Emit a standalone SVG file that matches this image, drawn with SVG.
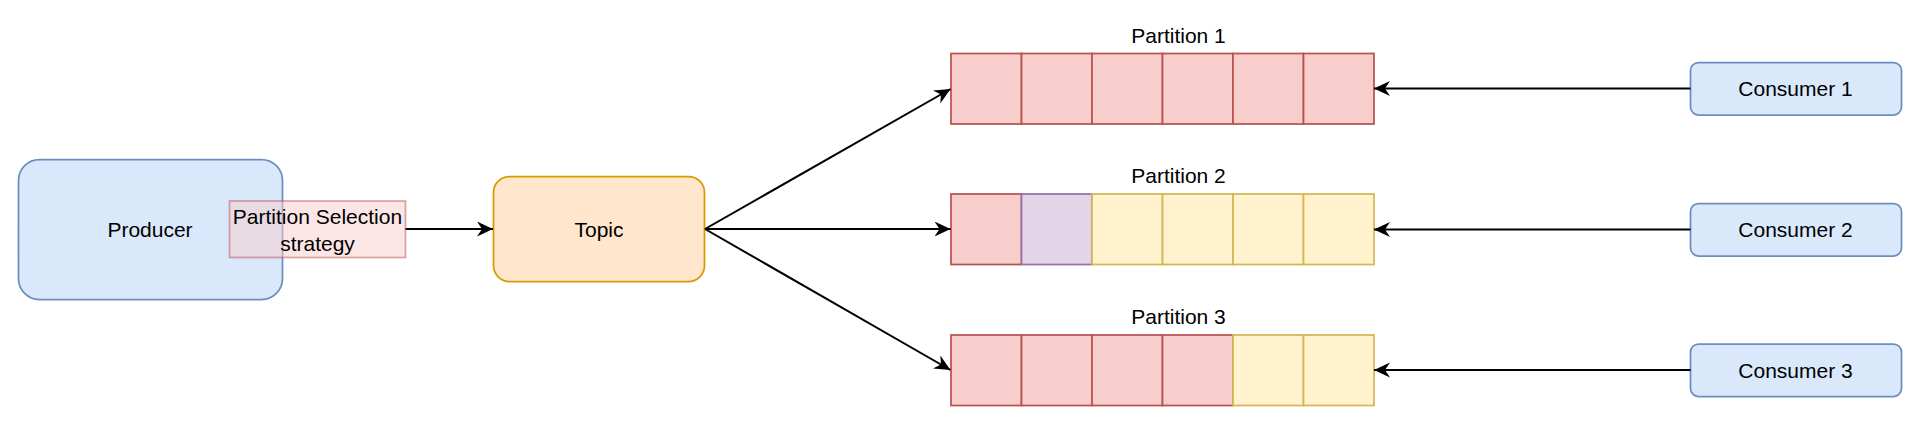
<svg xmlns="http://www.w3.org/2000/svg" width="1920" height="424" viewBox="0 0 1920 424">
<style>
text{font-family:"Liberation Sans",Arial,sans-serif;fill:#000;text-anchor:middle;dominant-baseline:central;font-size:21px}
.blue{fill:#dae8fc;stroke:#6c8ebf;stroke-width:1.75}
.orange{fill:#ffe6cc;stroke:#d79b00;stroke-width:1.75}
.red{fill:#f8cecc;stroke:#b85450;stroke-width:1.75}
.yellow{fill:#fff2cc;stroke:#d6b656;stroke-width:1.75}
.purple{fill:#e1d5e7;stroke:#9673a6;stroke-width:1.75}
.edge{fill:none;stroke:#000;stroke-width:2;marker-end:url(#arr)}
</style>
<defs>
<marker id="arr" markerUnits="userSpaceOnUse" markerWidth="18" markerHeight="16" refX="16" refY="7.5" orient="auto">
<path d="M0,0 L16,7.5 L0,15 L5,7.5 Z" fill="#000"/>
</marker>
</defs>
<rect width="1920" height="424" fill="#fff"/>
<g id="producer">
<rect class="blue" x="18.5" y="159.5" width="264" height="140" rx="21"/>
<text x="150" y="229">Producer</text>
</g>
<g id="strategy">
<rect x="229.5" y="201" width="176" height="56.5" fill="#f8cecc" fill-opacity="0.5" stroke="#b85450" stroke-opacity="0.5" stroke-width="1.75"/>
<text x="317.5" y="216.5">Partition Selection</text>
<text x="317.5" y="243">strategy</text>
</g>
<g id="topic">
<rect class="orange" x="493.5" y="176.5" width="211" height="105" rx="16"/>
<text x="599" y="229">Topic</text>
</g>
<g id="partition1">
<text x="1178.5" y="35">Partition 1</text>
<rect class="red" x="951" y="53.5" width="70.5" height="70.5"/>
<rect class="red" x="1021.5" y="53.5" width="70.5" height="70.5"/>
<rect class="red" x="1092" y="53.5" width="70.5" height="70.5"/>
<rect class="red" x="1162.5" y="53.5" width="70.5" height="70.5"/>
<rect class="red" x="1233" y="53.5" width="70.5" height="70.5"/>
<rect class="red" x="1303.5" y="53.5" width="70.5" height="70.5"/>
</g>
<g id="partition2">
<text x="1178.5" y="175.5">Partition 2</text>
<rect class="red" x="951" y="194" width="70.5" height="70.5"/>
<rect class="purple" x="1021.5" y="194" width="70.5" height="70.5"/>
<rect class="yellow" x="1092" y="194" width="70.5" height="70.5"/>
<rect class="yellow" x="1162.5" y="194" width="70.5" height="70.5"/>
<rect class="yellow" x="1233" y="194" width="70.5" height="70.5"/>
<rect class="yellow" x="1303.5" y="194" width="70.5" height="70.5"/>
</g>
<g id="partition3">
<text x="1178.5" y="316">Partition 3</text>
<rect class="red" x="951" y="335" width="70.5" height="70.5"/>
<rect class="red" x="1021.5" y="335" width="70.5" height="70.5"/>
<rect class="red" x="1092" y="335" width="70.5" height="70.5"/>
<rect class="red" x="1162.5" y="335" width="70.5" height="70.5"/>
<rect class="yellow" x="1233" y="335" width="70.5" height="70.5"/>
<rect class="yellow" x="1303.5" y="335" width="70.5" height="70.5"/>
</g>
<g id="consumer1">
<rect class="blue" x="1690.5" y="62.5" width="211" height="52.5" rx="8"/>
<text x="1795.5" y="88.5">Consumer 1</text>
</g>
<g id="consumer2">
<rect class="blue" x="1690.5" y="203.5" width="211" height="52.5" rx="8"/>
<text x="1795.5" y="229.5">Consumer 2</text>
</g>
<g id="consumer3">
<rect class="blue" x="1690.5" y="344" width="211" height="52.5" rx="8"/>
<text x="1795.5" y="370">Consumer 3</text>
</g>
<g id="connectors">
<path class="edge" d="M405.5,229 L493,229"/>
<path class="edge" d="M705,229 L950.5,89"/>
<path class="edge" d="M705,229 L950.5,229"/>
<path class="edge" d="M705,229 L950.5,370"/>
<path class="edge" d="M1690.5,88.5 L1374,88.5"/>
<path class="edge" d="M1690.5,229.5 L1374,229.5"/>
<path class="edge" d="M1690.5,370 L1374,370"/>
</g>
</svg>
